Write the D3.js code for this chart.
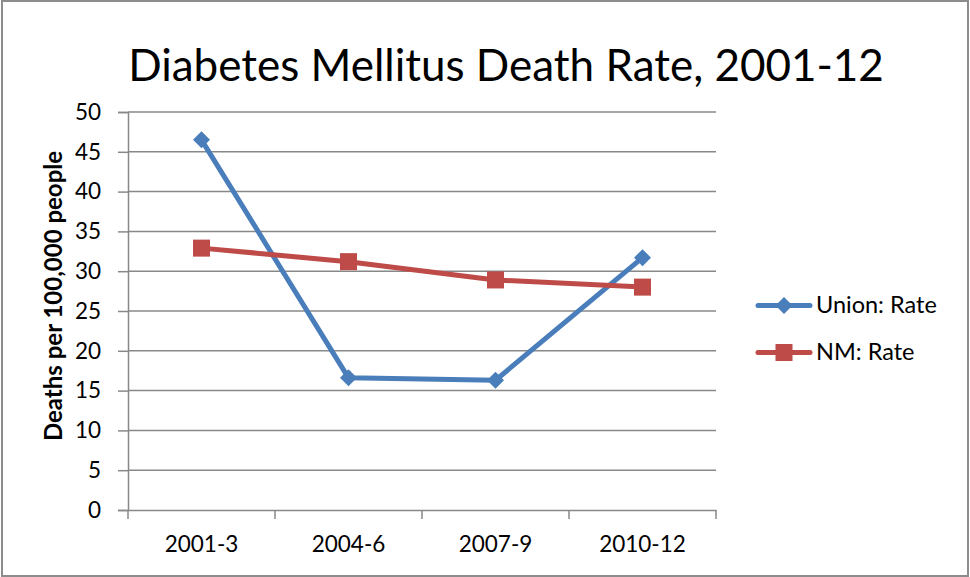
<!DOCTYPE html>
<html>
<head>
<meta charset="utf-8">
<script src="https://cdn.jsdelivr.net/npm/d3@7"></script>
<style>
  body { margin: 0; background: #fff; }
  svg { display: block; font-family: Lato, "Open Sans", sans-serif; }
</style>
</head>
<body>
<div id="chart"></div>
<script>
const categories = ["2001-3", "2004-6", "2007-9", "2010-12"];
const unionRate = [46.5, 16.6, 16.3, 31.7];
const nmRate = [32.9, 31.2, 28.9, 28.0];
const yTicks = [0, 5, 10, 15, 20, 25, 30, 35, 40, 45, 50];

const series = [
  { name: "Union: Rate", values: unionRate, color: "#4a7ebb", marker: "diamond" },
  { name: "NM: Rate", values: nmRate, color: "#be4b48", marker: "square" }
];

const width = 970, height = 577;
const plot = { left: 128, top: 112, right: 716, bottom: 510 };

const svg = d3.select("#chart").append("svg")
  .attr("width", width)
  .attr("height", height);

// outer chart border
svg.append("rect")
  .attr("x", 2).attr("y", 1)
  .attr("width", width - 4).attr("height", height - 2)
  .attr("fill", "#fff")
  .attr("stroke", "#8c8c8c")
  .attr("stroke-width", 2);

const x = d3.scaleBand().domain(categories).range([plot.left, plot.right]);
const y = d3.scaleLinear().domain([0, 50]).range([plot.bottom, plot.top]);

// gridlines
svg.append("g")
  .selectAll("line")
  .data(yTicks.filter(d => d > 0))
  .join("line")
  .attr("x1", plot.left).attr("x2", plot.right)
  .attr("y1", d => y(d)).attr("y2", d => y(d))
  .attr("stroke", "#888")
  .attr("stroke-width", 1.5);

// y axis
const yAxis = svg.append("g")
  .attr("transform", `translate(${plot.left},0)`)
  .call(d3.axisLeft(y).tickValues(yTicks).tickSize(10).tickPadding(17));
yAxis.select(".domain").attr("stroke", "#888").attr("stroke-width", 1.5);
yAxis.selectAll(".tick line").attr("stroke", "#888").attr("stroke-width", 1.5);
yAxis.selectAll("text").attr("font-size", 22.5).attr("fill", "#000")
  .attr("font-family", "Lato, sans-serif");

// x axis with ticks on category boundaries
const xAxis = svg.append("g")
  .attr("transform", `translate(0,${plot.bottom})`)
  .call(d3.axisBottom(x).tickSize(0));
xAxis.select(".domain").attr("stroke", "#888").attr("stroke-width", 1.5);
xAxis.selectAll("text")
  .attr("y", 42).attr("dy", 0)
  .attr("font-size", 22.5).attr("fill", "#000")
  .attr("font-family", "Lato, sans-serif");
xAxis.selectAll(".bound")
  .data(categories.map(c => x(c)).concat([plot.right]))
  .join("line")
  .attr("x1", d => d).attr("x2", d => d)
  .attr("y1", 0).attr("y2", 9)
  .attr("stroke", "#888").attr("stroke-width", 1.5);

// y axis title
svg.append("text")
  .attr("transform", "translate(62,296) rotate(-90)")
  .attr("text-anchor", "middle")
  .attr("font-size", 24)
  .attr("font-weight", "bold")
  .text("Deaths per 100,000 people");

// title
svg.append("text")
  .attr("x", 506).attr("y", 81)
  .attr("text-anchor", "middle")
  .attr("font-size", 44)
  .text("Diabetes Mellitus Death Rate, 2001-12");

const cx = c => x(c) + x.bandwidth() / 2;
const line = d3.line().x((d, i) => cx(categories[i])).y(d => y(d));

function drawMarker(g, type, color) {
  if (type === "diamond") {
    g.append("path").attr("d", "M0,-8.5L8.5,0L0,8.5L-8.5,0Z").attr("fill", color);
  } else {
    g.append("rect").attr("x", -8.5).attr("y", -8.5).attr("width", 17).attr("height", 17).attr("fill", color);
  }
}

series.forEach(s => {
  svg.append("path")
    .datum(s.values)
    .attr("d", line)
    .attr("fill", "none")
    .attr("stroke", s.color)
    .attr("stroke-width", 5)
    .attr("stroke-linejoin", "round");
  s.values.forEach((v, i) => {
    const g = svg.append("g").attr("transform", `translate(${cx(categories[i])},${y(v)})`);
    drawMarker(g, s.marker, s.color);
  });
});

// legend
const legend = svg.append("g");
series.forEach((s, i) => {
  const ly = 305.5 + i * 47;
  legend.append("line")
    .attr("x1", 758).attr("x2", 810)
    .attr("y1", ly).attr("y2", ly)
    .attr("stroke", s.color).attr("stroke-width", 5)
    .attr("stroke-linecap", "round");
  const g = legend.append("g").attr("transform", `translate(784,${ly})`);
  drawMarker(g, s.marker, s.color);
  legend.append("text")
    .attr("x", 816).attr("y", ly + 7)
    .attr("font-size", 23.5)
    .text(s.name);
});
</script>
</body>
</html>
